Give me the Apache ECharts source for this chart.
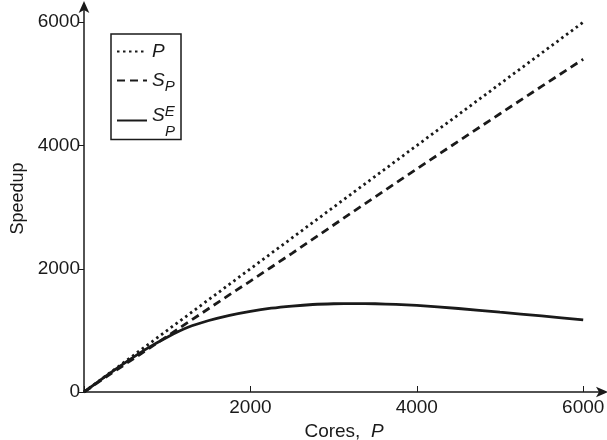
<!DOCTYPE html>
<html>
<head>
<meta charset="UTF-8">
<title>Speedup</title>
<style>
  html, body { margin: 0; padding: 0; background: #fff; }
  #chart { width: 607px; height: 440px; }
</style>
</head>
<body>
<div id="chart"></div>
<script src="https://cdn.jsdelivr.net/npm/echarts@6/dist/echarts.min.js"></script>
<script>
// cores P
const cores = [0, 250, 500, 750, 1000, 1250, 1500, 1750, 2000, 2250, 2500, 2750, 3000, 3250, 3500, 3750, 4000, 4500, 5000, 5500, 6000];
// ideal speedup = P
const ideal = cores.slice();
// S_P
const speedupP = [0, 230, 455, 680, 905, 1130, 1355, 1580, 1800, 2025, 2250, 2480, 2710, 2940, 3165, 3395, 3620, 4070, 4515, 4960, 5400];
// S_P^E
const speedupE = [0, 245, 480, 700, 890, 1050, 1160, 1245, 1310, 1360, 1395, 1420, 1432, 1435, 1432, 1422, 1405, 1355, 1295, 1235, 1170];
const tickValues = [0, 2000, 4000, 6000];

const chart = echarts.init(document.getElementById('chart'));
const font = 'Liberation Sans, Arial, sans-serif';
const ink = '#1a1a1a';

function pairs(ys) {
  return cores.map(function (x, i) { return [x, ys[i]]; });
}

const rich = {
  it: { fontStyle: 'italic', fontSize: 19, fontFamily: font, color: ink },
  sub: { fontStyle: 'italic', fontSize: 15, fontFamily: font, color: ink, verticalAlign: 'bottom', padding: [12, 0, 0, 0] },
  sup: { fontStyle: 'italic', fontSize: 15, fontFamily: font, color: ink, padding: [0, 0, 8, 0] },
  sub2: { fontStyle: 'italic', fontSize: 15, fontFamily: font, color: ink, lineHeight: 10 },
  top: { fontStyle: 'italic', fontSize: 19, fontFamily: font, color: ink, lineHeight: 18 },
  gap: { width: 13, fontSize: 15, lineHeight: 10 }
};

chart.setOption({
  animation: false,
  grid: { left: 84, right: 3, top: 5, bottom: 48, outerBoundsMode: 'none', containLabel: false },
  xAxis: {
    type: 'value', min: 0, max: 6250,
    name: '{n|Cores,  }{it|P}',
    nameLocation: 'middle', nameGap: 19,
    nameTextStyle: {
      rich: {
        n: { fontSize: 19, fontFamily: font, color: ink },
        it: { fontSize: 19, fontFamily: font, color: ink, fontStyle: 'italic' }
      }
    },
    axisLine: { show: true, symbol: ['none', 'arrow'], symbolSize: [8, 12], symbolOffset: [0, 4], lineStyle: { color: ink, width: 1.5 } },
    axisTick: { show: true, inside: true, length: 6, customValues: tickValues, lineStyle: { color: ink } },
    axisLabel: { customValues: tickValues, fontSize: 19, fontFamily: font, color: ink, margin: 6,
      formatter: function (v) { return v === 0 ? '' : String(v); } },
    splitLine: { show: false }
  },
  yAxis: {
    type: 'value', min: 0, max: 6280,
    name: 'Speedup', nameLocation: 'middle', nameGap: 56,
    nameTextStyle: { fontSize: 18, fontFamily: font, color: ink },
    axisLine: { show: true, symbol: ['none', 'arrow'], symbolSize: [8, 12], symbolOffset: [0, 4], lineStyle: { color: ink, width: 1.5 } },
    axisTick: { show: true, inside: false, length: 5, customValues: tickValues, lineStyle: { color: ink } },
    axisLabel: { customValues: tickValues, fontSize: 19, fontFamily: font, color: ink, margin: 4,
      formatter: function (v) { return String(v); } },
    splitLine: { show: false }
  },
  legend: {
    orient: 'vertical', left: 111, top: 34,
    borderColor: ink, borderWidth: 1.5,
    padding: [8, 6, 0, 5],
    itemWidth: 30, itemHeight: 12, itemGap: 10,
    itemStyle: { opacity: 0 },
    data: ['P', 'SP', 'SPE'],
    formatter: function (name) {
      if (name === 'P') return '{it|P}';
      if (name === 'SP') return '{it|S}{sub|P}';
      return '{top|S}{sup|E}\n{gap|}{sub2|P}';
    },
    textStyle: { rich: rich }
  },
  series: [
    { name: 'P', type: 'line', data: pairs(ideal), showSymbol: false, symbol: 'none',
      lineStyle: { color: ink, width: 2.8, type: [2.5, 3.5], cap: 'butt' }, itemStyle: { color: ink } },
    { name: 'SP', type: 'line', data: pairs(speedupP), showSymbol: false, symbol: 'none',
      lineStyle: { color: ink, width: 2.8, type: [8, 5] }, itemStyle: { color: ink } },
    { name: 'SPE', type: 'line', data: pairs(speedupE), showSymbol: false, symbol: 'none', smooth: 0.2,
      lineStyle: { color: ink, width: 2.8 }, itemStyle: { color: ink } }
  ]
});
</script>
</body>
</html>
